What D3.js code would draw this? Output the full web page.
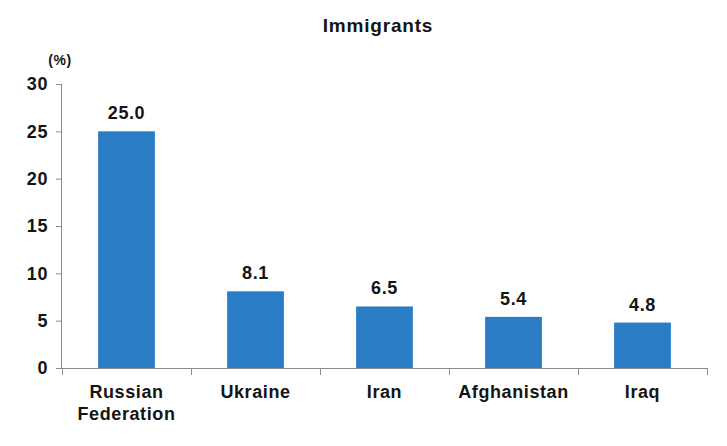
<!DOCTYPE html>
<html>
<head>
<meta charset="utf-8">
<script src="https://cdn.jsdelivr.net/npm/d3@7"></script>
<style>
  html, body { margin: 0; padding: 0; background: #fff; }
  svg { display: block; }
  text { font-family: "Liberation Sans", Arial, sans-serif; font-weight: bold; fill: #141414; }
</style>
</head>
<body>
<svg id="chart" width="727" height="446"></svg>
<script>
const categories = [["Russian", "Federation"], ["Ukraine"], ["Iran"], ["Afghanistan"], ["Iraq"]];
const values = [25.0, 8.1, 6.5, 5.4, 4.8];
const yTicks = [0, 5, 10, 15, 20, 25, 30];
const title = "Immigrants";
const unitLabel = "(%)";

const svg = d3.select("#chart");
const W = 727, H = 446;
const margin = { left: 62, right: 20, top: 84, bottom: 78 };
const x0 = margin.left, x1 = W - margin.right, yTop = margin.top, yBot = H - margin.bottom;

const keys = categories.map(c => c.join(" "));
const x = d3.scaleBand().domain(keys).range([x0, x1]).paddingInner(0.56).paddingOuter(0.28);
const y = d3.scaleLinear().domain([0, 30]).range([yBot, yTop]);

const axisColor = "#8c8c8c";
const barColor = "#2a7cc5";
const fontSize = "18px";
const spacing = "0.6px";

// Title
svg.append("text").attr("x", 378).attr("y", 32).attr("text-anchor", "middle")
  .style("font-size", "19px").style("letter-spacing", "0.8px").text(title);

// Unit label
svg.append("text").attr("x", 60).attr("y", 65).attr("text-anchor", "middle")
  .style("font-size", "14px").style("letter-spacing", "0.5px").text(unitLabel);

// Bars
svg.append("g").selectAll("rect").data(values).join("rect")
  .attr("x", (d, i) => x(keys[i]))
  .attr("y", d => y(d))
  .attr("width", x.bandwidth())
  .attr("height", d => y(0) - y(d))
  .attr("fill", barColor);

// Value labels
svg.append("g").selectAll("text").data(values).join("text")
  .attr("x", (d, i) => x(keys[i]) + x.bandwidth() / 2)
  .attr("y", d => y(d) - 12)
  .attr("text-anchor", "middle")
  .style("font-size", fontSize).style("letter-spacing", spacing)
  .text(d => d.toFixed(1));

// Y axis
const yAxis = d3.axisLeft(y).tickValues(yTicks).tickSize(6).tickPadding(8).tickFormat(d3.format("d"));
const gy = svg.append("g").attr("transform", `translate(${x0},0)`).call(yAxis);
gy.select(".domain").attr("stroke", axisColor).attr("d", `M-0.5,${yTop}V${yBot}`);
gy.selectAll(".tick line").attr("stroke", axisColor);
gy.selectAll(".tick text").attr("fill", "#141414")
  .style("font-family", '"Liberation Sans", Arial, sans-serif')
  .style("font-weight", "bold").style("font-size", fontSize).style("letter-spacing", spacing);

// X axis line with boundary ticks
const step = x.step();
const boundaries = d3.range(keys.length + 1).map(i => x0 + i * step);
const gx = svg.append("g");
gx.append("line").attr("x1", x0).attr("x2", x1).attr("y1", yBot + 0.5).attr("y2", yBot + 0.5)
  .attr("stroke", axisColor);
gx.selectAll("line.tk").data(boundaries).join("line").attr("class", "tk")
  .attr("x1", d => Math.round(d) + 0.5).attr("x2", d => Math.round(d) + 0.5)
  .attr("y1", yBot).attr("y2", yBot + 7).attr("stroke", axisColor);

// Category labels
const cat = svg.append("g").selectAll("text").data(categories).join("text")
  .attr("x", (d, i) => x(keys[i]) + x.bandwidth() / 2)
  .attr("y", yBot + 30)
  .attr("text-anchor", "middle")
  .style("font-size", fontSize).style("letter-spacing", spacing);
cat.each(function(d) {
  const t = d3.select(this);
  d.forEach((line, j) => {
    t.append("tspan").attr("x", t.attr("x")).attr("dy", j === 0 ? 0 : 22).text(line);
  });
});
</script>
</body>
</html>
